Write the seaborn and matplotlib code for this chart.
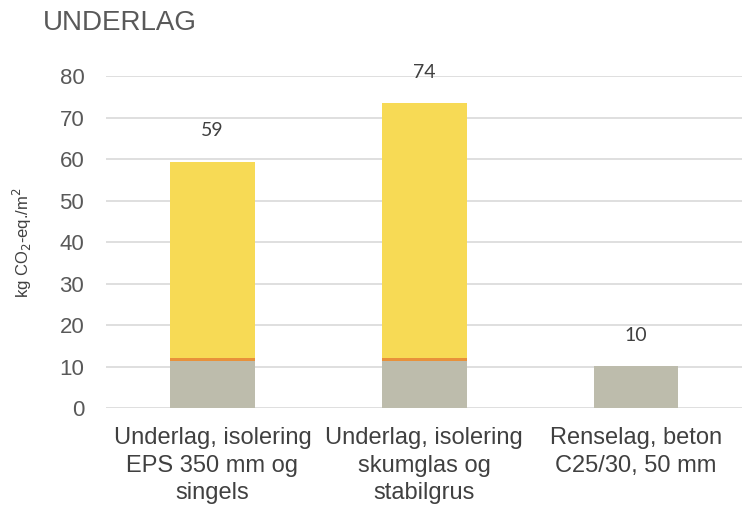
import matplotlib
matplotlib.use("Agg")
import matplotlib.pyplot as plt
import seaborn as sns
import pandas as pd

categories = ["Underlag, isolering\nEPS 350 mm og\nsingels",
              "Underlag, isolering\nskumglas og\nstabilgrus",
              "Renselag, beton\nC25/30, 50 mm"]
gray_vals = [11.3, 11.3, 10.1]
orange_vals = [0.7, 0.7, 0.0]
yellow_vals = [47.3, 61.5, 0.0]
labels = ["59", "74", "10"]
yticks = [0, 10, 20, 30, 40, 50, 60, 70, 80]

sns.set_style("white")
plt.rcParams['font.family'] = ['Liberation Sans', 'DejaVu Sans']

df = pd.DataFrame({"cat": categories, "gray": gray_vals,
                   "orange": orange_vals, "yellow": yellow_vals})
df["c1"] = df["gray"]
df["c2"] = df["gray"] + df["orange"]
df["c3"] = df["c2"] + df["yellow"]

fig = plt.figure(figsize=(7.42, 5.05), dpi=100)
ax = fig.add_axes([0.1435, 0.192, 0.8565, 0.657])

for col, color in [("c3", "#F7DA55"), ("c2", "#E8913A"), ("c1", "#BDBCAC")]:
    sns.barplot(data=df, x="cat", y=col, color=color, width=0.4,
                saturation=1, ax=ax, edgecolor="none", linewidth=0,
                zorder=3)

for i, (t, lab) in enumerate(zip(df["c3"], labels)):
    ax.text(i, t + 7.5, lab, ha="center", va="center", fontsize=14,
            color="#404040", family=["Lato", "DejaVu Sans"])

ax.set_ylim(0, 80)
ax.set_xlim(-0.5, 2.5)
ax.set_yticks(yticks)
ax.yaxis.grid(True, color="#D9D9D9", linewidth=1.2, zorder=0)
ax.set_axisbelow(True)
for s in ax.spines.values():
    s.set_visible(False)
ax.tick_params(axis="y", length=0, pad=16, labelsize=16, labelcolor="#595959")
ax.tick_params(axis="x", length=0, pad=14, labelsize=17, labelcolor="#404040")
for lbl in ax.get_xticklabels():
    lbl.set_linespacing(1.3)
ax.set_xlabel("")
ax.set_ylabel("kg CO$_2$-eq./m$^2$", fontsize=12, color="#404040", labelpad=18)
fig.text(0.058, 0.955, "UNDERLAG", fontsize=20, color="#595959",
         ha="left", va="center")

fig.savefig("out.png", dpi=100)
